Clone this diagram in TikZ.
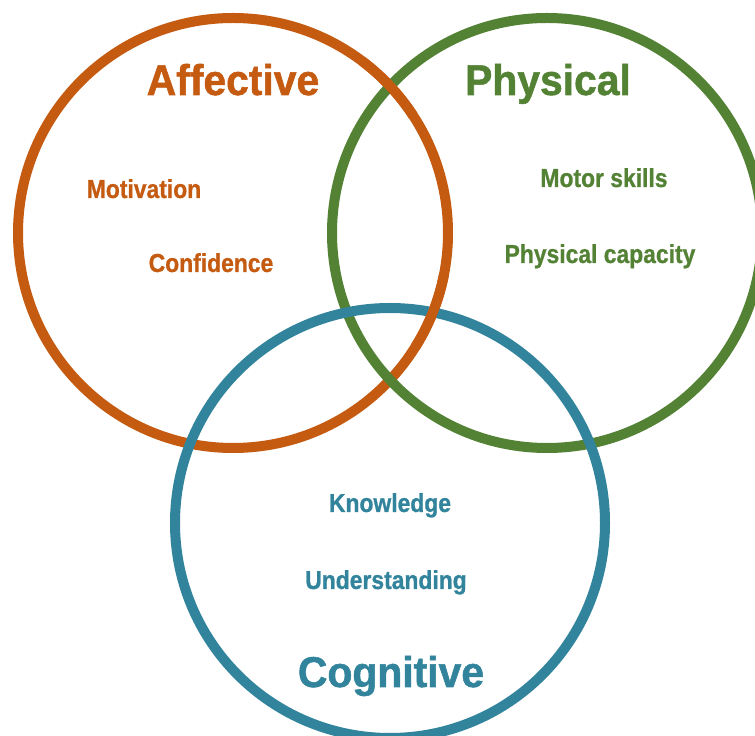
\documentclass[tikz,border=0pt]{standalone}
\usepackage{fontspec}
\newfontfamily\headfont{Liberation Sans}[FakeStretch=0.95, BoldFeatures={FakeBold=1.2}]
\newfontfamily\itemfont{Liberation Sans}[FakeStretch=0.88, BoldFeatures={FakeBold=0.8}]
\usetikzlibrary{calc}
\definecolor{affC}{HTML}{C55A11}
\definecolor{phyC}{HTML}{548235}
\definecolor{cogC}{HTML}{31849B}
\begin{document}
\begin{tikzpicture}[x=1pt,y=1pt,
  ring/.style={circle, draw, line width=10pt, minimum size=430pt, inner sep=0pt, outer sep=0pt},
  arcfix/.style={line width=10pt},
  head/.style={anchor=base, font=\headfont\fontsize{43}{48}\selectfont\bfseries, inner sep=0pt},
  item/.style={anchor=base, font=\itemfont\fontsize{26}{30}\selectfont\bfseries, inner sep=0pt}]
\useasboundingbox (0,0) rectangle (755,736);
\clip (0,0) rectangle (755,736);
\fill[white] (0,0) rectangle (755,736);
% circles
\node[ring, draw=affC] (A) at (233,503) {};
\node[ring, draw=phyC] (P) at (547,503) {};
\node[ring, draw=cogC] (C) at (390,213) {};
% weave: orange over green at top, orange over blue at upper right
\draw[arcfix, affC] ($(A.center)+(33:215)$) arc[start angle=33, end angle=53, radius=215];
\draw[arcfix, affC] ($(A.center)+(-32:215)$) arc[start angle=-32, end angle=-11, radius=215];
% labels
\node[head, text=affC] (tA) at (233,641) {Affective};
\node[head, text=phyC] (tP) at (548,641) {Physical};
\node[head, text=cogC] (tC) at (391,49) {Cognitive};
\node[item, text=affC] (mot) at (144,538) {Motivation};
\node[item, text=affC] (con) at (211,464) {Confidence};
\node[item, text=phyC] (mos) at (604,549) {Motor skills};
\node[item, text=phyC] (pca) at (600,473) {Physical capacity};
\node[item, text=cogC] (kno) at (390,224) {Knowledge};
\node[item, text=cogC] (und) at (386,147) {Understanding};
\end{tikzpicture}
\end{document}
